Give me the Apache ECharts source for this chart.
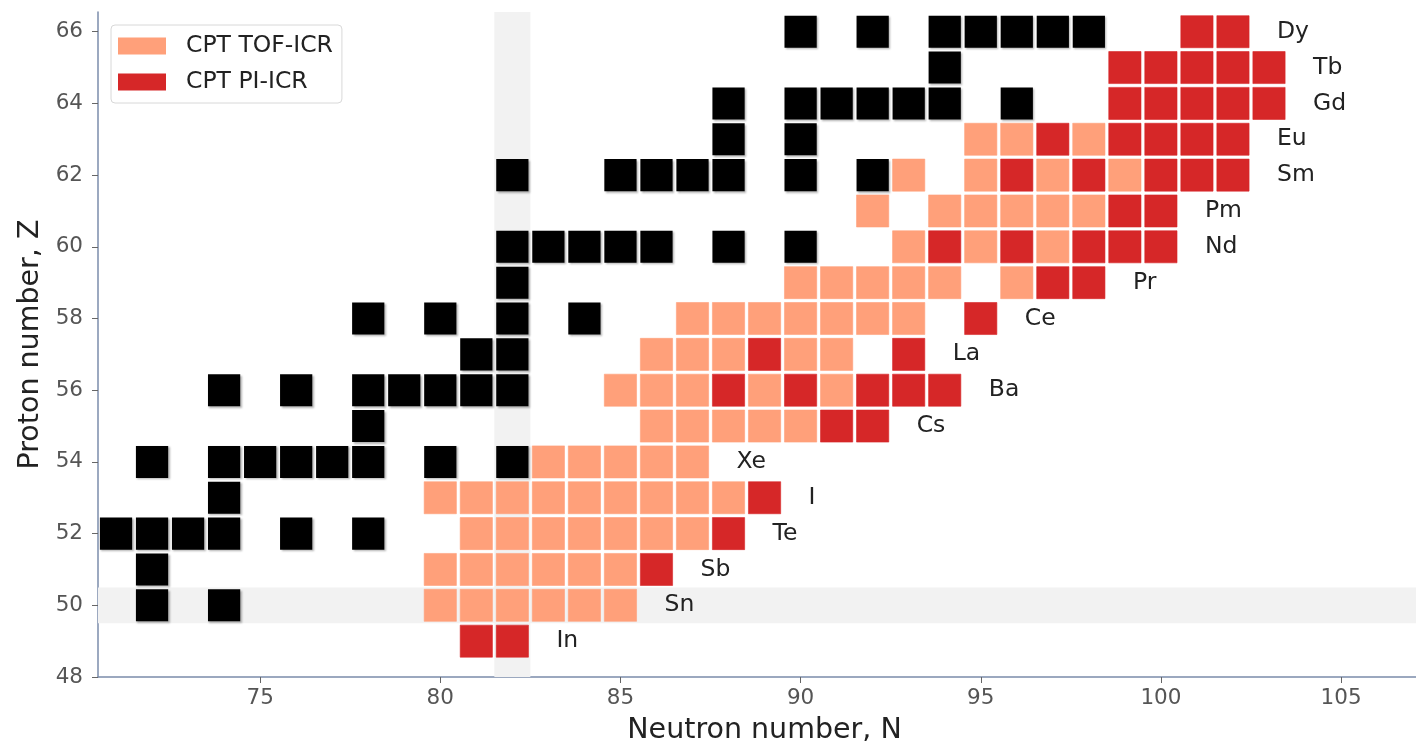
<!DOCTYPE html>
<html>
<head>
<meta charset="utf-8">
<script src="https://cdn.jsdelivr.net/npm/echarts@6/dist/echarts.min.js"></script>
<style>
html,body{margin:0;padding:0;background:#fff;}
#chart{width:1416px;height:750px;}
</style>
</head>
<body>
<div id="chart"></div>
<script>
// Proton numbers (rows), bottom to top
const protonRows = [49, 50, 51, 52, 53, 54, 55, 56, 57, 58, 59, 60, 61, 62, 63, 64, 65, 66];
const elementNames = ['In', 'Sn', 'Sb', 'Te', 'I', 'Xe', 'Cs', 'Ba', 'La', 'Ce', 'Pr', 'Nd', 'Pm', 'Sm', 'Eu', 'Gd', 'Tb', 'Dy'];

// Neutron numbers measured by other facilities (black), one list per row above
const otherN = [
  [],
  [72, 74],
  [72],
  [71, 72, 73, 74, 76, 78],
  [74],
  [72, 74, 75, 76, 77, 78, 80, 82],
  [78],
  [74, 76, 78, 79, 80, 81, 82],
  [81, 82],
  [78, 80, 82, 84],
  [82],
  [82, 83, 84, 85, 86, 88, 90],
  [],
  [82, 85, 86, 87, 88, 90, 92],
  [88, 90],
  [88, 90, 91, 92, 93, 94, 96],
  [94],
  [90, 92, 94, 95, 96, 97, 98]
];

// CPT TOF-ICR
const tofN = [
  [],
  [80, 81, 82, 83, 84, 85],
  [80, 81, 82, 83, 84, 85],
  [81, 82, 83, 84, 85, 86, 87],
  [80, 81, 82, 83, 84, 85, 86, 87, 88],
  [83, 84, 85, 86, 87],
  [86, 87, 88, 89, 90],
  [85, 86, 87, 89, 91],
  [86, 87, 88, 90, 91],
  [87, 88, 89, 90, 91, 92, 93],
  [90, 91, 92, 93, 94, 96],
  [93, 95, 97],
  [92, 94, 95, 96, 97, 98],
  [93, 95, 97, 99],
  [95, 96, 98],
  [],
  [],
  []
];

// CPT PI-ICR
const piN = [
  [81, 82],
  [],
  [86],
  [88],
  [89],
  [],
  [91, 92],
  [88, 90, 92, 93, 94],
  [89, 93],
  [95],
  [97, 98],
  [94, 96, 98, 99, 100],
  [99, 100],
  [96, 98, 100, 101, 102],
  [97, 99, 100, 101, 102],
  [99, 100, 101, 102, 103],
  [99, 100, 101, 102, 103],
  [101, 102]
];

const magicN = [82];
const magicZ = [50];
const xTicks = [75, 80, 85, 90, 95, 100, 105];
const yTicks = [48, 50, 52, 54, 56, 58, 60, 62, 64, 66];

function toCells(rows) {
  const out = [];
  rows.forEach((list, i) => list.forEach(n => out.push([n, protonRows[i]])));
  return out;
}

const labelData = protonRows.map((z, i) => {
  const all = tofN[i].concat(piN[i]);
  return [Math.max.apply(null, all) + 1.25, z, elementNames[i]];
});

const FONT = 'DejaVu Sans';
const chart = echarts.init(document.getElementById('chart'), null, {renderer: 'canvas'});

function cellRenderer(fill, isBlack) {
  return function (params, api) {
    const p0 = api.coord([api.value(0) - 0.5, api.value(1) + 0.5]);
    const p1 = api.coord([api.value(0) + 0.5, api.value(1) - 0.5]);
    const inset = 1.9;
    const style = {fill: fill};
    if (isBlack) {
      style.shadowBlur = 2;
      style.shadowColor = 'rgba(0,0,0,0.3)';
      style.shadowOffsetX = 1.5;
      style.shadowOffsetY = 1.5;
    } else {
      style.stroke = fill;
      style.lineWidth = 0.6;
    }
    return {
      type: 'rect',
      shape: {x: p0[0] + inset, y: p0[1] + inset, width: p1[0] - p0[0] - 2 * inset, height: p1[1] - p0[1] - 2 * inset},
      style: style
    };
  };
}

const bandData = magicN.map(n => [n, 'N']).concat(magicZ.map(z => [z, 'Z']));

const option = {
  animation: false,
  backgroundColor: '#fff',
  grid: {left: 98, right: 0, top: 12, bottom: 70},
  xAxis: {
    type: 'value', min: 70.5, max: 107.08,
    name: 'Neutron number, N', nameLocation: 'middle', nameGap: 39,
    nameTextStyle: {fontFamily: FONT, fontSize: 28.5, color: '#222', padding: [0, 0, 0, 15]},
    axisLine: {show: true, lineStyle: {color: '#7b8cab', width: 1.5}},
    axisTick: {show: true, length: 6, lineStyle: {color: '#666'}, customValues: xTicks},
    axisLabel: {fontFamily: FONT, fontSize: 21.5, color: '#555', margin: 10, customValues: xTicks},
    splitLine: {show: false}
  },
  yAxis: {
    type: 'value', min: 48, max: 66.55,
    name: 'Proton number, Z', nameLocation: 'middle', nameGap: 52, nameRotate: 90,
    nameTextStyle: {fontFamily: FONT, fontSize: 28.5, color: '#222'},
    axisLine: {show: true, lineStyle: {color: '#7b8cab', width: 1.5}},
    axisTick: {show: true, length: 6, lineStyle: {color: '#666'}, customValues: yTicks},
    axisLabel: {fontFamily: FONT, fontSize: 21.5, color: '#555', margin: 15, customValues: yTicks},
    splitLine: {show: false}
  },
  legend: {
    data: ['CPT TOF-ICR', 'CPT PI-ICR'],
    orient: 'vertical', left: 111, top: 25,
    icon: 'rect', itemWidth: 48, itemHeight: 17, itemGap: 12,
    padding: [9, 9, 9, 7],
    backgroundColor: '#fff', borderColor: '#d8d8d8', borderWidth: 1, borderRadius: 4,
    textStyle: {fontFamily: FONT, fontSize: 23.5, color: '#222', padding: [0, 0, 0, 15], lineHeight: 24}
  },
  series: [
    {
      type: 'custom', name: 'bands', silent: true, z: 1,
      data: bandData,
      renderItem: function (params, api) {
        const cs = params.coordSys;
        const v = api.value(0);
        const kind = bandData[params.dataIndex][1];
        let shape;
        if (kind === 'N') {
          const a = api.coord([v - 0.5, 0])[0], b = api.coord([v + 0.5, 0])[0];
          shape = {x: a, y: cs.y, width: b - a, height: cs.height};
        } else {
          const a = api.coord([0, v + 0.5])[1], b = api.coord([0, v - 0.5])[1];
          shape = {x: cs.x, y: a, width: cs.width, height: b - a};
        }
        return {type: 'rect', shape: shape, style: {fill: '#f2f2f2'}};
      }
    },
    {
      type: 'custom', name: 'other', z: 3, silent: true,
      data: toCells(otherN), encode: {x: 0, y: 1},
      renderItem: cellRenderer('#000000', true)
    },
    {
      type: 'custom', name: 'CPT TOF-ICR', z: 3, silent: true,
      itemStyle: {color: '#FFA07A'},
      data: toCells(tofN), encode: {x: 0, y: 1},
      renderItem: cellRenderer('#FFA07A', false)
    },
    {
      type: 'custom', name: 'CPT PI-ICR', z: 3, silent: true,
      itemStyle: {color: '#D62728'},
      data: toCells(piN), encode: {x: 0, y: 1},
      renderItem: cellRenderer('#D62728', false)
    },
    {
      type: 'custom', name: 'labels', z: 4, silent: true,
      data: labelData, encode: {x: 0, y: 1},
      renderItem: function (params, api) {
        const p = api.coord([api.value(0), api.value(1)]);
        return {
          type: 'text',
          x: p[0] - 1, y: p[1],
          style: {text: labelData[params.dataIndex][2], fill: '#222', font: '23.5px "DejaVu Sans"', align: 'left', verticalAlign: 'middle'}
        };
      }
    }
  ]
};
chart.setOption(option);
</script>
</body>
</html>
